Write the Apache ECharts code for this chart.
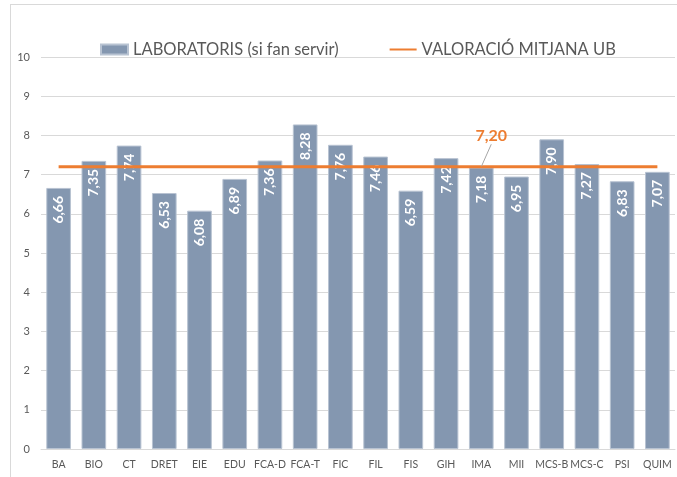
<!DOCTYPE html>
<html>
<head>
<meta charset="utf-8">
<script src="https://cdn.jsdelivr.net/npm/echarts@6/dist/echarts.min.js"></script>
<style>
body { margin: 0; background: #fff; }
.frame { position: absolute; left: 10px; top: 4px; width: 720px; height: 520px; border: 1px solid #d9d9d9; }
#c { position: absolute; left: 0; top: 0; width: 677px; height: 477px; }
</style>
</head>
<body>
<div class="frame"></div>
<div id="c"></div>
<script>
const categories = ['BA', 'BIO', 'CT', 'DRET', 'EIE', 'EDU', 'FCA-D', 'FCA-T', 'FIC', 'FIL', 'FIS', 'GIH', 'IMA', 'MII', 'MCS-B', 'MCS-C', 'PSI', 'QUIM']
const labValues = [6.66, 7.35, 7.74, 6.53, 6.08, 6.89, 7.36, 8.28, 7.76, 7.46, 6.59, 7.42, 7.18, 6.95, 7.90, 7.27, 6.83, 7.07]
const ubAverage = 7.20
const labelAt = 12 // IMA
const yTicks = [0, 1, 2, 3, 4, 5, 6, 7, 8, 9, 10]

const fmt = v => v.toFixed(2).replace('.', ',')
const font = 'Lato, "Open Sans", sans-serif'

// only one point of the average line carries the label
const avgData = categories.map((c, i) => {
  if (i !== labelAt) return ubAverage
  return {
    value: ubAverage,
    label: {
      show: true,
      position: 'top',
      distance: 0,
      formatter: p => fmt(p.value),
      color: '#ED7D31',
      fontWeight: 'bold',
      fontSize: 16,
      fontFamily: font
    },
    labelLine: { show: true, showAbove: true, lineStyle: { color: '#a6a6a6', width: 1 } }
  }
})

const chart = echarts.init(document.getElementById('c'))
chart.setOption({
  animation: false,
  textStyle: { fontFamily: font },
  legend: {
    left: 95,
    top: 36,
    itemWidth: 27,
    itemHeight: 10,
    itemGap: 50,
    textStyle: { fontSize: 16.5, color: '#595959', fontFamily: font },
    data: [
      { name: 'LABORATORIS (si fan servir)', icon: 'rect' },
      { name: 'VALORACIÓ MITJANA UB', itemStyle: { opacity: 0 } }
    ]
  },
  grid: { left: 41, right: 2, top: 57, bottom: 28 },
  xAxis: {
    type: 'category',
    data: categories,
    axisLine: { lineStyle: { color: '#d9d9d9' } },
    axisTick: { show: false },
    axisLabel: { color: '#595959', fontSize: 10.5, margin: 10, interval: 0 }
  },
  yAxis: {
    type: 'value',
    min: yTicks[0],
    max: yTicks[yTicks.length - 1],
    interval: 1,
    axisLabel: { color: '#595959', fontSize: 11, margin: 11 },
    splitLine: { lineStyle: { color: '#d9d9d9' } }
  },
  series: [
    {
      name: 'LABORATORIS (si fan servir)',
      type: 'bar',
      data: labValues,
      barCategoryGap: '30%',
      itemStyle: { color: '#8497B0', borderColor: '#b8c3d2', borderWidth: 1 },
      label: {
        show: true,
        position: 'insideTop',
        rotate: 90,
        align: 'right',
        verticalAlign: 'middle',
        distance: 8,
        color: '#fff',
        fontWeight: 'bold',
        fontSize: 14,
        fontFamily: font,
        formatter: p => fmt(p.value)
      }
    },
    {
      name: 'VALORACIÓ MITJANA UB',
      type: 'line',
      data: avgData,
      symbol: 'circle',
      symbolSize: 1,
      showSymbol: true,
      label: { show: false },
      labelLine: { show: true, showAbove: true, lineStyle: { color: '#a6a6a6', width: 1 } },
      labelLayout: p => (p.dataIndex === labelAt ? { dx: 10, dy: -22 } : {}),
      lineStyle: { color: '#ED7D31', width: 3 },
      itemStyle: { color: 'rgba(237,125,49,0)' },
      z: 5
    }
  ]
})
</script>
</body>
</html>
